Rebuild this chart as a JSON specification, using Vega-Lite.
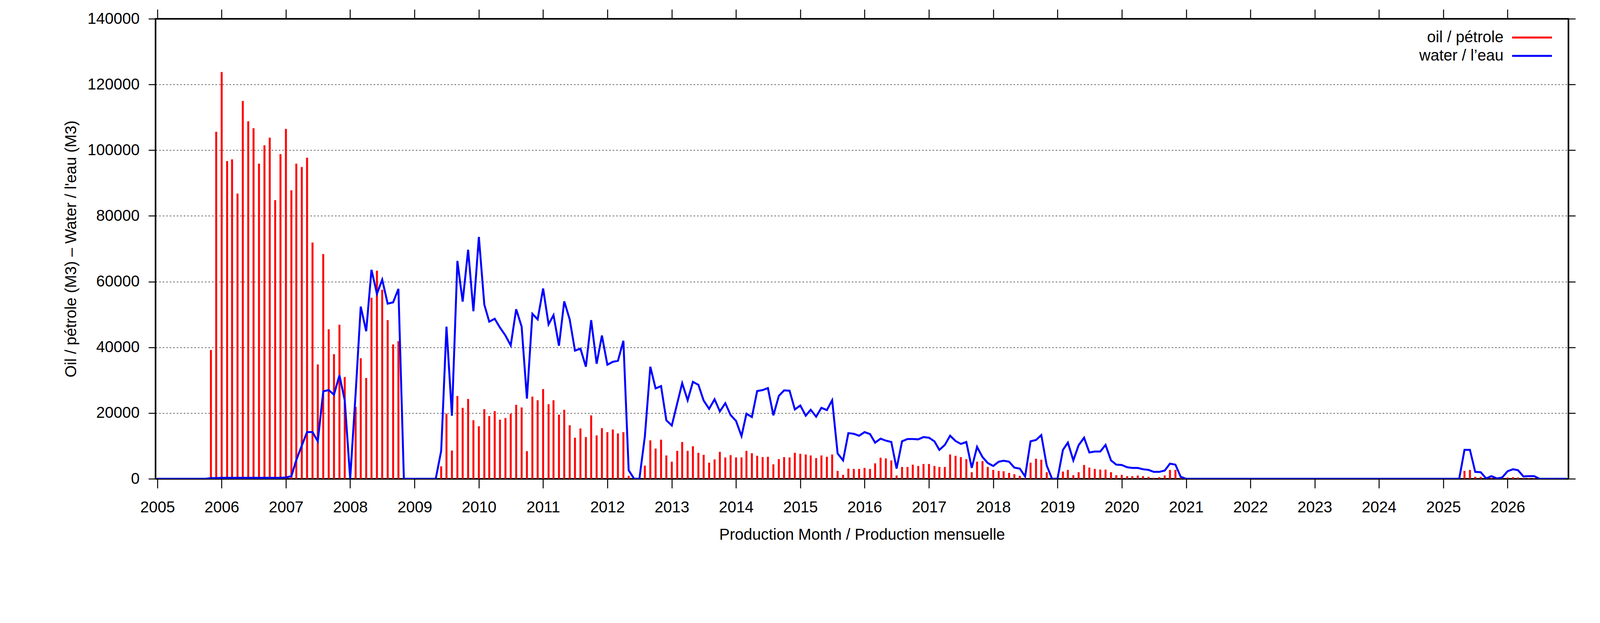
{
  "$schema": "https://vega.github.io/schema/vega-lite/v6.json",
  "autosize": {"type": "fit", "contains": "padding"},
  "width": "container",
  "height": 1594,
  "padding": {"left": 162, "top": 22, "right": 61, "bottom": 206},
  "background": "white",
  "data": {
    "values": [
      {"date": "2005-01-01", "oil": 0, "water": 0},
      {"date": "2005-02-01", "oil": 0, "water": 0},
      {"date": "2005-03-01", "oil": 0, "water": 0},
      {"date": "2005-04-01", "oil": 0, "water": 0},
      {"date": "2005-05-01", "oil": 0, "water": 0},
      {"date": "2005-06-01", "oil": 0, "water": 0},
      {"date": "2005-07-01", "oil": 0, "water": 0},
      {"date": "2005-08-01", "oil": 0, "water": 0},
      {"date": "2005-09-01", "oil": 0, "water": 0},
      {"date": "2005-10-01", "oil": 0, "water": 0},
      {"date": "2005-11-01", "oil": 39200, "water": 200},
      {"date": "2005-12-01", "oil": 105600, "water": 200},
      {"date": "2006-01-01", "oil": 123800, "water": 300},
      {"date": "2006-02-01", "oil": 96700, "water": 300},
      {"date": "2006-03-01", "oil": 97200, "water": 300},
      {"date": "2006-04-01", "oil": 86800, "water": 300},
      {"date": "2006-05-01", "oil": 115000, "water": 300},
      {"date": "2006-06-01", "oil": 108800, "water": 300},
      {"date": "2006-07-01", "oil": 106700, "water": 300},
      {"date": "2006-08-01", "oil": 95900, "water": 300},
      {"date": "2006-09-01", "oil": 101500, "water": 300},
      {"date": "2006-10-01", "oil": 103800, "water": 300},
      {"date": "2006-11-01", "oil": 84800, "water": 300},
      {"date": "2006-12-01", "oil": 98800, "water": 300},
      {"date": "2007-01-01", "oil": 106500, "water": 400},
      {"date": "2007-02-01", "oil": 87800, "water": 800},
      {"date": "2007-03-01", "oil": 95900, "water": 5700},
      {"date": "2007-04-01", "oil": 94900, "water": 10100},
      {"date": "2007-05-01", "oil": 97700, "water": 14200},
      {"date": "2007-06-01", "oil": 71900, "water": 14200},
      {"date": "2007-07-01", "oil": 34800, "water": 11400},
      {"date": "2007-08-01", "oil": 68400, "water": 26600},
      {"date": "2007-09-01", "oil": 45500, "water": 27000},
      {"date": "2007-10-01", "oil": 37900, "water": 25600},
      {"date": "2007-11-01", "oil": 46900, "water": 31500},
      {"date": "2007-12-01", "oil": 31000, "water": 23900},
      {"date": "2008-01-01", "oil": 0, "water": 0},
      {"date": "2008-02-01", "oil": 21900, "water": 26000},
      {"date": "2008-03-01", "oil": 36700, "water": 52400},
      {"date": "2008-04-01", "oil": 30700, "water": 44900},
      {"date": "2008-05-01", "oil": 55100, "water": 63600},
      {"date": "2008-06-01", "oil": 63300, "water": 56300},
      {"date": "2008-07-01", "oil": 57500, "water": 60600},
      {"date": "2008-08-01", "oil": 48300, "water": 53300},
      {"date": "2008-09-01", "oil": 40900, "water": 53700},
      {"date": "2008-10-01", "oil": 41900, "water": 57800},
      {"date": "2008-11-01", "oil": 0, "water": 0},
      {"date": "2008-12-01", "oil": 0, "water": 0},
      {"date": "2009-01-01", "oil": 0, "water": 0},
      {"date": "2009-02-01", "oil": 0, "water": 0},
      {"date": "2009-03-01", "oil": 0, "water": 0},
      {"date": "2009-04-01", "oil": 0, "water": 0},
      {"date": "2009-05-01", "oil": 0, "water": 0},
      {"date": "2009-06-01", "oil": 3800, "water": 8500},
      {"date": "2009-07-01", "oil": 19800, "water": 46300},
      {"date": "2009-08-01", "oil": 8600, "water": 19200},
      {"date": "2009-09-01", "oil": 25200, "water": 66300},
      {"date": "2009-10-01", "oil": 21600, "water": 53900},
      {"date": "2009-11-01", "oil": 24300, "water": 69700},
      {"date": "2009-12-01", "oil": 17800, "water": 51000},
      {"date": "2010-01-01", "oil": 16000, "water": 73600},
      {"date": "2010-02-01", "oil": 21200, "water": 53000},
      {"date": "2010-03-01", "oil": 19100, "water": 47800},
      {"date": "2010-04-01", "oil": 20600, "water": 48700},
      {"date": "2010-05-01", "oil": 18000, "water": 46000},
      {"date": "2010-06-01", "oil": 18500, "water": 43600},
      {"date": "2010-07-01", "oil": 19800, "water": 40600},
      {"date": "2010-08-01", "oil": 22500, "water": 51600},
      {"date": "2010-09-01", "oil": 21700, "water": 46300},
      {"date": "2010-10-01", "oil": 8400, "water": 24400},
      {"date": "2010-11-01", "oil": 25000, "water": 50200},
      {"date": "2010-12-01", "oil": 23900, "water": 48500},
      {"date": "2011-01-01", "oil": 27300, "water": 57900},
      {"date": "2011-02-01", "oil": 22700, "water": 47000},
      {"date": "2011-03-01", "oil": 23900, "water": 49800},
      {"date": "2011-04-01", "oil": 19500, "water": 40500},
      {"date": "2011-05-01", "oil": 21000, "water": 54000},
      {"date": "2011-06-01", "oil": 16300, "water": 48500},
      {"date": "2011-07-01", "oil": 12500, "water": 39000},
      {"date": "2011-08-01", "oil": 15300, "water": 39600},
      {"date": "2011-09-01", "oil": 12700, "water": 34100},
      {"date": "2011-10-01", "oil": 19300, "water": 48300},
      {"date": "2011-11-01", "oil": 13200, "water": 35000},
      {"date": "2011-12-01", "oil": 15400, "water": 43600},
      {"date": "2012-01-01", "oil": 14200, "water": 34700},
      {"date": "2012-02-01", "oil": 15000, "water": 35600},
      {"date": "2012-03-01", "oil": 13800, "water": 35900},
      {"date": "2012-04-01", "oil": 14200, "water": 42000},
      {"date": "2012-05-01", "oil": 900, "water": 2600},
      {"date": "2012-06-01", "oil": 0, "water": 0},
      {"date": "2012-07-01", "oil": 0, "water": 0},
      {"date": "2012-08-01", "oil": 4000, "water": 12900},
      {"date": "2012-09-01", "oil": 11700, "water": 34100},
      {"date": "2012-10-01", "oil": 9200, "water": 27500},
      {"date": "2012-11-01", "oil": 11900, "water": 28200},
      {"date": "2012-12-01", "oil": 7100, "water": 17800},
      {"date": "2013-01-01", "oil": 5200, "water": 16200},
      {"date": "2013-02-01", "oil": 8500, "water": 23000},
      {"date": "2013-03-01", "oil": 11200, "water": 29100},
      {"date": "2013-04-01", "oil": 8500, "water": 23900},
      {"date": "2013-05-01", "oil": 9900, "water": 29500},
      {"date": "2013-06-01", "oil": 7900, "water": 28600},
      {"date": "2013-07-01", "oil": 7300, "water": 23800},
      {"date": "2013-08-01", "oil": 4900, "water": 21300},
      {"date": "2013-09-01", "oil": 5900, "water": 24200},
      {"date": "2013-10-01", "oil": 8200, "water": 20500},
      {"date": "2013-11-01", "oil": 6500, "water": 23000},
      {"date": "2013-12-01", "oil": 7200, "water": 19400},
      {"date": "2014-01-01", "oil": 6500, "water": 17600},
      {"date": "2014-02-01", "oil": 6500, "water": 13000},
      {"date": "2014-03-01", "oil": 8500, "water": 19800},
      {"date": "2014-04-01", "oil": 7800, "water": 18800},
      {"date": "2014-05-01", "oil": 7000, "water": 26700},
      {"date": "2014-06-01", "oil": 6600, "water": 27000},
      {"date": "2014-07-01", "oil": 6700, "water": 27600},
      {"date": "2014-08-01", "oil": 4400, "water": 19300},
      {"date": "2014-09-01", "oil": 6000, "water": 25200},
      {"date": "2014-10-01", "oil": 6600, "water": 26900},
      {"date": "2014-11-01", "oil": 6500, "water": 26800},
      {"date": "2014-12-01", "oil": 7900, "water": 21100},
      {"date": "2015-01-01", "oil": 7600, "water": 22300},
      {"date": "2015-02-01", "oil": 7400, "water": 19200},
      {"date": "2015-03-01", "oil": 7100, "water": 21000},
      {"date": "2015-04-01", "oil": 6300, "water": 18900},
      {"date": "2015-05-01", "oil": 7100, "water": 21600},
      {"date": "2015-06-01", "oil": 6700, "water": 20900},
      {"date": "2015-07-01", "oil": 7400, "water": 23900},
      {"date": "2015-08-01", "oil": 2400, "water": 7700},
      {"date": "2015-09-01", "oil": 1200, "water": 5600},
      {"date": "2015-10-01", "oil": 3100, "water": 13900},
      {"date": "2015-11-01", "oil": 3000, "water": 13700},
      {"date": "2015-12-01", "oil": 3000, "water": 13100},
      {"date": "2016-01-01", "oil": 3300, "water": 14200},
      {"date": "2016-02-01", "oil": 3000, "water": 13600},
      {"date": "2016-03-01", "oil": 4700, "water": 11000},
      {"date": "2016-04-01", "oil": 6400, "water": 12200},
      {"date": "2016-05-01", "oil": 6200, "water": 11600},
      {"date": "2016-06-01", "oil": 5600, "water": 11200},
      {"date": "2016-07-01", "oil": 1000, "water": 3100},
      {"date": "2016-08-01", "oil": 3600, "water": 11400},
      {"date": "2016-09-01", "oil": 3600, "water": 12100},
      {"date": "2016-10-01", "oil": 4300, "water": 12100},
      {"date": "2016-11-01", "oil": 3900, "water": 12000},
      {"date": "2016-12-01", "oil": 4500, "water": 12700},
      {"date": "2017-01-01", "oil": 4500, "water": 12500},
      {"date": "2017-02-01", "oil": 3900, "water": 11400},
      {"date": "2017-03-01", "oil": 3600, "water": 8800},
      {"date": "2017-04-01", "oil": 3600, "water": 10300},
      {"date": "2017-05-01", "oil": 7400, "water": 13100},
      {"date": "2017-06-01", "oil": 7000, "water": 11500},
      {"date": "2017-07-01", "oil": 6600, "water": 10600},
      {"date": "2017-08-01", "oil": 6000, "water": 11200},
      {"date": "2017-09-01", "oil": 2000, "water": 3300},
      {"date": "2017-10-01", "oil": 5200, "water": 9700},
      {"date": "2017-11-01", "oil": 5400, "water": 6600},
      {"date": "2017-12-01", "oil": 3600, "water": 4800},
      {"date": "2018-01-01", "oil": 2700, "water": 3900},
      {"date": "2018-02-01", "oil": 2400, "water": 5200},
      {"date": "2018-03-01", "oil": 2300, "water": 5500},
      {"date": "2018-04-01", "oil": 1800, "water": 5200},
      {"date": "2018-05-01", "oil": 1400, "water": 3400},
      {"date": "2018-06-01", "oil": 900, "water": 3100},
      {"date": "2018-07-01", "oil": 200, "water": 700},
      {"date": "2018-08-01", "oil": 4900, "water": 11400},
      {"date": "2018-09-01", "oil": 6100, "water": 11800},
      {"date": "2018-10-01", "oil": 5800, "water": 13300},
      {"date": "2018-11-01", "oil": 2000, "water": 4000},
      {"date": "2018-12-01", "oil": 0, "water": 0},
      {"date": "2019-01-01", "oil": 0, "water": 0},
      {"date": "2019-02-01", "oil": 2200, "water": 8800},
      {"date": "2019-03-01", "oil": 2700, "water": 11000},
      {"date": "2019-04-01", "oil": 1100, "water": 5600},
      {"date": "2019-05-01", "oil": 2000, "water": 10200},
      {"date": "2019-06-01", "oil": 4200, "water": 12500},
      {"date": "2019-07-01", "oil": 3400, "water": 8000},
      {"date": "2019-08-01", "oil": 3000, "water": 8300},
      {"date": "2019-09-01", "oil": 2800, "water": 8300},
      {"date": "2019-10-01", "oil": 2800, "water": 10300},
      {"date": "2019-11-01", "oil": 2000, "water": 5600},
      {"date": "2019-12-01", "oil": 1100, "water": 4300},
      {"date": "2020-01-01", "oil": 1200, "water": 4200},
      {"date": "2020-02-01", "oil": 800, "water": 3500},
      {"date": "2020-03-01", "oil": 800, "water": 3300},
      {"date": "2020-04-01", "oil": 1000, "water": 3300},
      {"date": "2020-05-01", "oil": 800, "water": 2900},
      {"date": "2020-06-01", "oil": 600, "water": 2700},
      {"date": "2020-07-01", "oil": 300, "water": 2100},
      {"date": "2020-08-01", "oil": 500, "water": 2100},
      {"date": "2020-09-01", "oil": 1000, "water": 2500},
      {"date": "2020-10-01", "oil": 2700, "water": 4600},
      {"date": "2020-11-01", "oil": 2700, "water": 4300},
      {"date": "2020-12-01", "oil": 400, "water": 600},
      {"date": "2021-01-01", "oil": 0, "water": 0},
      {"date": "2021-06-01", "oil": 0, "water": 0},
      {"date": "2022-01-01", "oil": 0, "water": 0},
      {"date": "2022-06-01", "oil": 0, "water": 0},
      {"date": "2023-01-01", "oil": 0, "water": 0},
      {"date": "2023-06-01", "oil": 0, "water": 0},
      {"date": "2024-01-01", "oil": 0, "water": 0},
      {"date": "2024-06-01", "oil": 0, "water": 0},
      {"date": "2025-01-01", "oil": 0, "water": 0},
      {"date": "2025-04-01", "oil": 0, "water": 0},
      {"date": "2025-05-01", "oil": 2400, "water": 8800},
      {"date": "2025-06-01", "oil": 2700, "water": 8800},
      {"date": "2025-07-01", "oil": 600, "water": 2100},
      {"date": "2025-08-01", "oil": 600, "water": 2000},
      {"date": "2025-09-01", "oil": 0, "water": 100},
      {"date": "2025-10-01", "oil": 300, "water": 800},
      {"date": "2025-11-01", "oil": 0, "water": 100},
      {"date": "2025-12-01", "oil": 100, "water": 400},
      {"date": "2026-01-01", "oil": 400, "water": 2300},
      {"date": "2026-02-01", "oil": 500, "water": 2900},
      {"date": "2026-03-01", "oil": 400, "water": 2600},
      {"date": "2026-04-01", "oil": 200, "water": 700},
      {"date": "2026-05-01", "oil": 200, "water": 800},
      {"date": "2026-06-01", "oil": 200, "water": 800},
      {"date": "2026-07-01", "oil": 0, "water": 0},
      {"date": "2026-12-01", "oil": 0, "water": 0}
    ]
  },
  "layer": [
    {
      "mark": {"type": "bar", "width": {"expr": "0.365 * width / 263"}, "clip": true},
      "encoding": {
        "x": {
          "field": "date",
          "type": "temporal",
          "scale": {"type": "utc", "domain": [{"year": 2005, "month": 1, "date": 1, "utc": true}, {"year": 2026, "month": 12, "date": 1, "utc": true}]},
          "axis": {
            "orient": "bottom",
            "title": "Production Month / Production mensuelle",
            "format": "%Y",
            "tickCount": {"interval": "year", "step": 1},
            "tickSize": 24,
            "labelPadding": 29,
            "titlePadding": 30,
            "grid": false
          }
        },
        "y": {
          "field": "oil",
          "type": "quantitative",
          "scale": {"domain": [0, 140000], "nice": false},
          "axis": {
            "orient": "left",
            "title": "Oil / pétrole (M3) – Water / l'eau (M3)",
            "values": [0, 20000, 40000, 60000, 80000, 100000, 120000, 140000],
            "format": "d",
            "tickSize": 18,
            "labelPadding": 23,
            "titlePadding": 21,
            "grid": true,
            "gridColor": "#333333",
            "gridDash": [4, 5],
            "gridWidth": 1.5
          }
        },
        "color": {
          "datum": "oil / pétrole",
          "scale": {"domain": ["oil / pétrole", "water / l’eau"], "range": ["#ff0000", "#0000ff"]},
          "legend": {
            "title": null,
            "orient": "none",
            "legendX": {"expr": "width - 116"},
            "legendY": 25,
            "symbolType": "M-2.5,0H2.5",
            "symbolSize": 1665,
            "symbolStrokeWidth": 5,
            "labelAlign": "right",
            "labelOffset": -96,
            "labelLimit": 0,
            "labelFontSize": 40,
            "labelFont": "Liberation Sans",
            "labelColor": "black",
            "padding": 0,
            "rowPadding": 4,
            "encode": {"symbols": {"update": {"stroke": {"scale": "color", "field": "value"}, "fill": {"value": "transparent"}, "strokeWidth": {"value": 5}}}}
          }
        }
      }
    },
    {
      "mark": {"type": "line", "strokeWidth": 5, "clip": true, "strokeJoin": "miter"},
      "encoding": {
        "x": {
          "field": "date",
          "type": "temporal",
          "axis": {
            "orient": "top",
            "title": null,
            "labels": false,
            "grid": false,
            "tickSize": 24,
            "tickCount": {"interval": "year", "step": 1}
          }
        },
        "y": {
          "field": "water",
          "type": "quantitative",
          "axis": {
            "orient": "right",
            "title": null,
            "labels": false,
            "grid": false,
            "tickSize": 18,
            "values": [0, 20000, 40000, 60000, 80000, 100000, 120000, 140000]
          }
        },
        "color": {"datum": "water / l’eau"}
      }
    }
  ],
  "resolve": {"axis": {"x": "independent", "y": "independent"}},
  "config": {
    "font": "Liberation Sans",
    "view": {"stroke": "black", "strokeWidth": 3.5},
    "axis": {
      "domainColor": "black",
      "domainWidth": 3.5,
      "tickColor": "black",
      "tickWidth": 2.5,
      "labelFont": "Liberation Sans",
      "labelFontSize": 40,
      "labelColor": "black",
      "titleFont": "Liberation Sans",
      "titleFontSize": 40,
      "titleFontWeight": "normal",
      "titleColor": "black"
    }
  }
}
